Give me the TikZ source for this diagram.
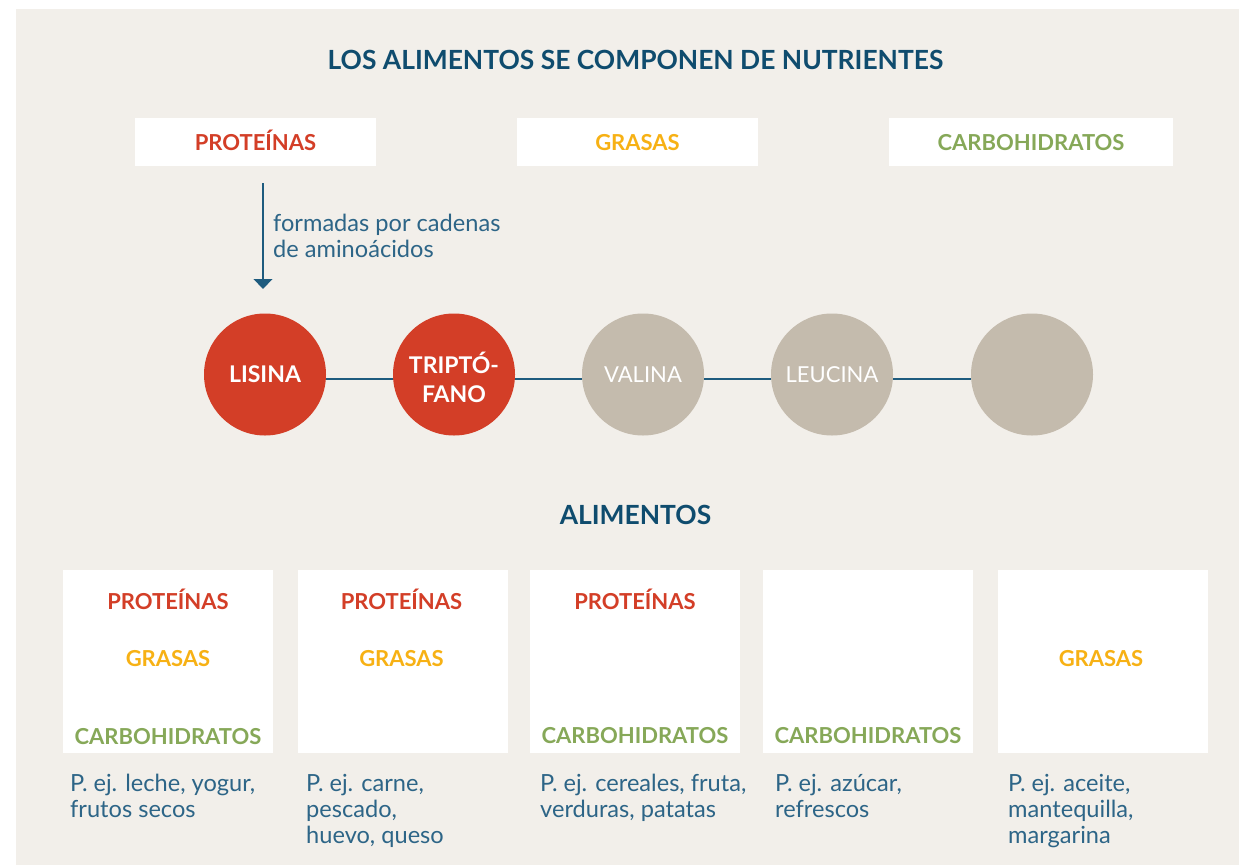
\documentclass[tikz,border=0pt]{standalone}
\usepackage{fontspec}
\setmainfont{Lato}
\usetikzlibrary{arrows.meta}
\definecolor{bg}{HTML}{F2EFEA}
\definecolor{nred}{HTML}{D33E27}
\definecolor{nyel}{HTML}{F7B114}
\definecolor{ngreen}{HTML}{86A858}
\definecolor{tblue}{HTML}{0F4C6E}
\definecolor{bblue}{HTML}{2D6587}
\definecolor{cgrey}{HTML}{C4BBAD}
\definecolor{lblue}{HTML}{1E5B7E}
\begin{document}
\begin{tikzpicture}[x=1pt,y=-1pt,
  heading/.style={inner sep=0pt, anchor=base, text=tblue, font=\fontsize{26.4}{30}\selectfont\bfseries},
  topbox/.style={fill=white, minimum height=48pt, inner sep=0pt},
  lab/.style={inner sep=0pt, anchor=base, font=\fontsize{22}{27}\selectfont\bfseries},
  fbox/.style={fill=white, minimum width=210pt, minimum height=183pt, inner sep=0pt},
  body/.style={inner sep=0pt, anchor=north west, align=left, text=bblue, font=\fontsize{23.6}{26}\selectfont},
  circ/.style={circle, minimum size=122pt, inner sep=0pt},
  ctext/.style={inner sep=0pt, text=white, align=center},
  link/.style={draw=lblue, line width=1.6pt},
  arr/.style={draw=lblue, line width=1.6pt, -{Triangle[width=18.7pt,length=10pt]}}
]
\useasboundingbox (0,0) rectangle (1239,865);
\fill[white] (0,0) rectangle (1239,865);
\fill[bg] (16,9) rectangle (1239,865);

\node[heading] (title) at (635.5,69.5) {LOS ALIMENTOS SE COMPONEN DE NUTRIENTES};

% top boxes
\node[topbox, minimum width=241pt] (tp) at (255.5,142) {};
\node[topbox, minimum width=241pt] (tg) at (637.5,142) {};
\node[topbox, minimum width=284pt] (tc) at (1031,142) {};
\node[lab, text=nred] (tpl) at (255.5,150.5) {PROTEÍNAS};
\node[lab, text=nyel] (tgl) at (637.5,150.5) {GRASAS};
\node[lab, text=ngreen] (tcl) at (1031,150.5) {CARBOHIDRATOS};

% arrow
\coordinate (as) at (263,183);
\coordinate (ae) at (263,289);
\draw[arr] (as) -- (ae);
\node[body] (form) at (273,213.5) {formadas por cadenas\\de aminoácidos};

% circles
\node[circ, fill=nred] (c1) at (265,374.5) {};
\node[circ, fill=nred] (c2) at (454,374.5) {};
\node[circ, fill=cgrey] (c3) at (643,374.5) {};
\node[circ, fill=cgrey] (c4) at (832,374.5) {};
\node[circ, fill=cgrey] (c5) at (1032,374.5) {};
\node[ctext, font=\fontsize{23}{29}\selectfont\bfseries] (c1t) at (c1) {LISINA};
\node[ctext, font=\fontsize{23}{29}\selectfont\bfseries] (c2t) at ([yshift=-3pt]c2.center) {TRIPTÓ-\\FANO};
\node[ctext, font=\fontsize{22}{28}\selectfont] (c3t) at (c3) {VALINA};
\node[ctext, font=\fontsize{22}{28}\selectfont] (c4t) at (c4) {LEUCINA};
\draw[link] ([yshift=-4.5pt]c1.east) -- ([yshift=-4.5pt]c2.west);
\draw[link] ([yshift=-4.5pt]c2.east) -- ([yshift=-4.5pt]c3.west);
\draw[link] ([yshift=-4.5pt]c3.east) -- ([yshift=-4.5pt]c4.west);
\draw[link] ([yshift=-4.5pt]c4.east) -- ([yshift=-4.5pt]c5.west);

\node[heading] (alim) at (635.5,524) {ALIMENTOS};

% bottom boxes
\node[fbox] (b1) at (168,661.5) {};
\node[fbox] (b2) at (403,661.5) {};
\node[fbox] (b3) at (635,661.5) {};
\node[fbox] (b4) at (868,661.5) {};
\node[fbox] (b5) at (1103,661.5) {};

\node[lab, text=nred] (b1p) at (168,609.5) {PROTEÍNAS};
\node[lab, text=nyel] (b1g) at (168,666) {GRASAS};
\node[lab, text=ngreen] (b1c) at (168,744) {CARBOHIDRATOS};
\node[lab, text=nred] (b2p) at (401.5,609.5) {PROTEÍNAS};
\node[lab, text=nyel] (b2g) at (401.5,666) {GRASAS};
\node[lab, text=nred] (b3p) at (635,609.5) {PROTEÍNAS};
\node[lab, text=ngreen] (b3c) at (635,743) {CARBOHIDRATOS};
\node[lab, text=ngreen] (b4c) at (868,743) {CARBOHIDRATOS};
\node[lab, text=nyel] (b5g) at (1101,666) {GRASAS};

\node[body] (e1) at (70,774) {P. ej. leche, yogur,\\frutos secos};
\node[body] (e2) at (306,774) {P. ej. carne,\\pescado,\\huevo, queso};
\node[body] (e3) at (540,774) {P. ej. cereales, fruta,\\verduras, patatas};
\node[body] (e4) at (775,774) {P. ej. azúcar,\\refrescos};
\node[body] (e5) at (1008,774) {P. ej. aceite,\\mantequilla,\\margarina};
\end{tikzpicture}
\end{document}
